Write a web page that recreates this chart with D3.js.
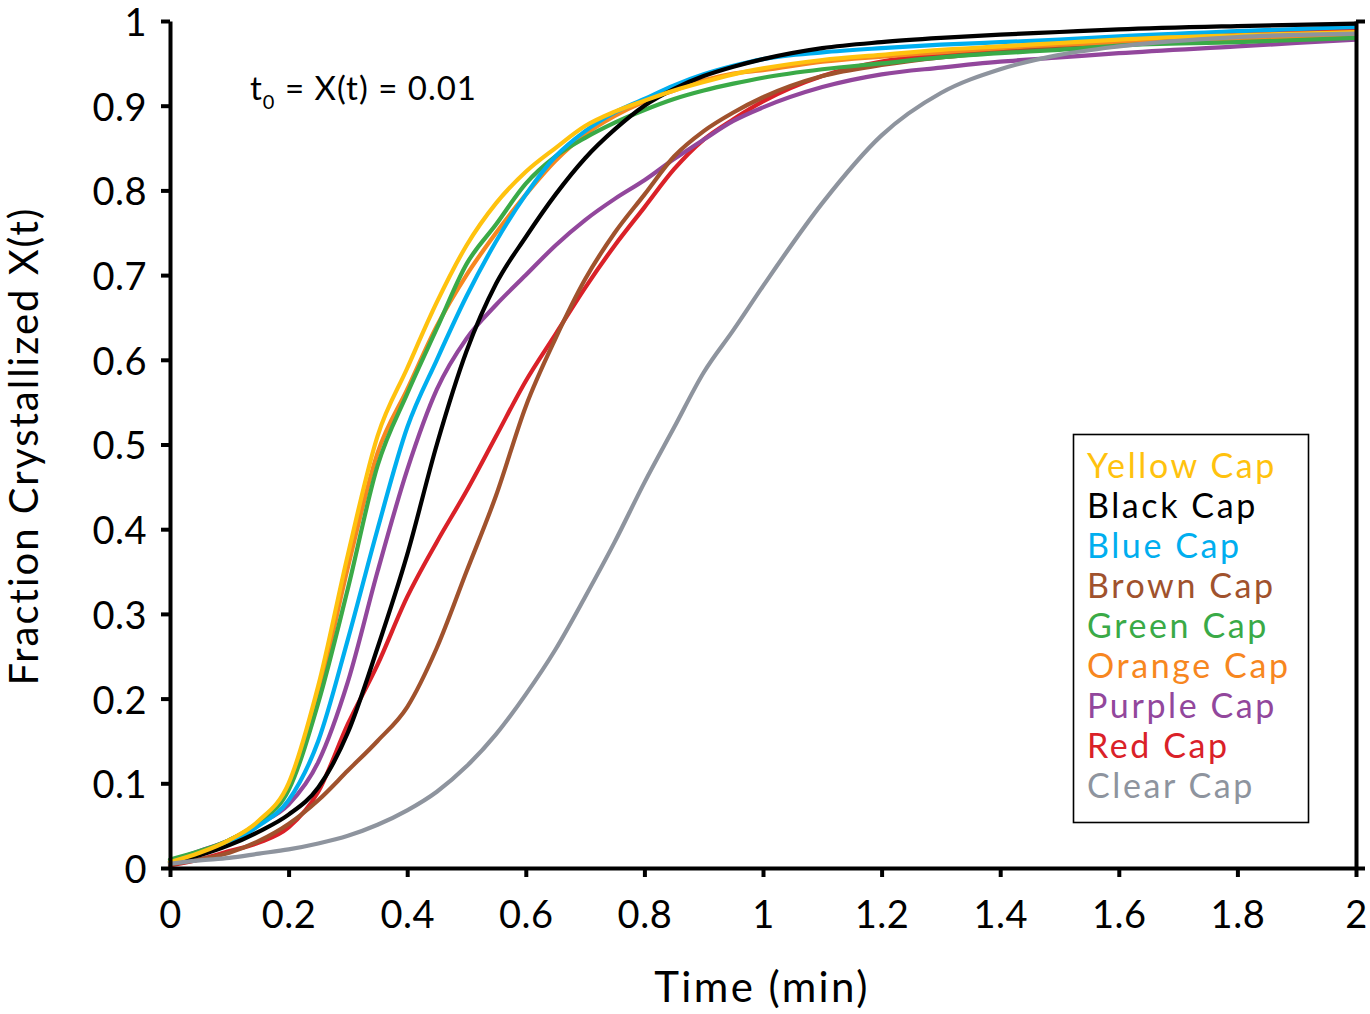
<!DOCTYPE html>
<html>
<head>
<meta charset="utf-8">
<script src="https://cdn.jsdelivr.net/npm/d3@7"></script>
<style>
  html, body { margin: 0; padding: 0; background: #fff; }
  svg { display: block; font-family: "Century Gothic", "Lato", sans-serif; }
</style>
</head>
<body>
<svg id="chart" width="1370" height="1014"></svg>
<script>
// ---- data ----
const times = [0, 0.05, 0.1, 0.15, 0.2, 0.25, 0.3, 0.35, 0.4, 0.45, 0.5, 0.55, 0.6, 0.65, 0.7, 0.75, 0.8, 0.85, 0.9, 0.95, 1.0, 1.1, 1.2, 1.3, 1.4, 1.5, 1.6, 1.8, 2.0];

const yellowCap = [.007,.018,.033,.056,.100,.215,.370,.510,.590,.668,.735,.785,.822,.850,.876,.893,.906,.918,.928,.937,.944,.954,.960,.966,.970,.974,.978,.983,.987];
const blackCap  = [.006,.015,.027,.043,.063,.095,.160,.260,.370,.500,.610,.690,.745,.795,.838,.872,.900,.920,.935,.946,.955,.968,.975,.980,.984,.987,.990,.994,.997];
const blueCap   = [.007,.017,.030,.050,.080,.150,.270,.400,.520,.600,.675,.740,.795,.840,.870,.892,.908,.924,.937,.947,.955,.963,.968,.972,.975,.978,.982,.988,.993];
const brownCap  = [.004,.010,.018,.032,.052,.080,.115,.150,.190,.260,.350,.440,.545,.625,.695,.750,.795,.840,.870,.892,.910,.935,.948,.957,.963,.968,.973,.979,.983];
const greenCap  = [.010,.020,.033,.054,.092,.195,.330,.475,.560,.637,.713,.760,.808,.840,.862,.880,.895,.908,.918,.926,.933,.943,.950,.957,.962,.966,.971,.975,.980];
const orangeCap = [.007,.018,.032,.055,.097,.205,.355,.490,.565,.640,.700,.750,.795,.835,.866,.888,.905,.918,.930,.938,.942,.952,.958,.963,.968,.972,.974,.978,.981];
const purpleCap = [.008,.020,.033,.052,.075,.125,.220,.350,.470,.565,.625,.665,.700,.735,.765,.790,.812,.837,.860,.882,.898,.922,.937,.945,.952,.957,.962,.970,.978];
const redCap    = [.003,.010,.020,.030,.048,.090,.170,.240,.320,.385,.445,.510,.575,.630,.685,.735,.780,.825,.860,.884,.905,.935,.952,.960,.966,.971,.976,.984,.990];
const clearCap  = [.005,.009,.012,.017,.022,.029,.038,.051,.068,.090,.120,.158,.205,.258,.320,.385,.455,.520,.585,.635,.687,.785,.865,.915,.943,.960,.970,.981,.985];

const seriesNames  = ["Yellow Cap","Black Cap","Blue Cap","Brown Cap","Green Cap","Orange Cap","Purple Cap","Red Cap","Clear Cap"];
const seriesValues = [yellowCap, blackCap, blueCap, brownCap, greenCap, orangeCap, purpleCap, redCap, clearCap];
const seriesColors = ["#FFC20E","#000000","#00AEEF","#A0522D","#3AAA47","#F7871F","#92479C","#DA2128","#8E949E"];
const drawOrder    = [7, 6, 3, 5, 4, 2, 1, 0, 8];

const xTickValues = [0,0.2,0.4,0.6,0.8,1,1.2,1.4,1.6,1.8,2];
const xTickLabels = ["0","0.2","0.4","0.6","0.8","1","1.2","1.4","1.6","1.8","2"];
const yTickValues = [0,0.1,0.2,0.3,0.4,0.5,0.6,0.7,0.8,0.9,1];
const yTickLabels = ["0","0.1","0.2","0.3","0.4","0.5","0.6","0.7","0.8","0.9","1"];

const xTitle = "Time (min)";
const yTitle = "Fraction Crystallized X(t)";

// ---- layout ----
const svg = d3.select("#chart");
const L = 170, R = 1356, T = 21, B = 868;
const x = d3.scaleLinear().domain([0, 2]).range([L, R]);
const y = d3.scaleLinear().domain([0, 1]).range([B, T]);

// curves
const line = d3.line().x(d => x(d[0])).y(d => y(d[1])).curve(d3.curveMonotoneX);
const gLines = svg.append("g");
drawOrder.forEach(i => {
  const pts = times.map((t, k) => [t, seriesValues[i][k]]);
  gLines.append("path")
    .attr("d", line(pts))
    .attr("fill", "none")
    .attr("stroke", seriesColors[i])
    .attr("stroke-width", 4.2)
    .attr("stroke-linejoin", "round")
    .attr("stroke-linecap", "round");
});

// axes
function styleAxis(g) {
  g.select(".domain").attr("stroke", "#000").attr("stroke-width", 4);
  g.selectAll(".tick line").attr("stroke", "#000").attr("stroke-width", 4);
  g.selectAll(".tick text").attr("fill", "#000").attr("font-size", 38)
    .attr("letter-spacing", 0.5)
    .attr("font-family", "\"Century Gothic\", Lato, sans-serif");
}

const xAxis = d3.axisBottom(x).tickValues(xTickValues)
  .tickFormat((d, i) => xTickLabels[i]).tickSize(9).tickSizeOuter(0).tickPadding(24);
svg.append("g").attr("transform", `translate(0,${B})`).call(xAxis).call(styleAxis);

const yAxis = d3.axisLeft(y).tickValues(yTickValues)
  .tickFormat((d, i) => yTickLabels[i]).tickSize(9).tickSizeOuter(0).tickPadding(14);
const gy = svg.append("g").attr("transform", `translate(${L},0)`).call(yAxis).call(styleAxis);
gy.selectAll(".tick text").attr("dy", "0.38em");

const yAxisR = d3.axisRight(y).tickValues([0, 1]).tickFormat("").tickSize(9).tickSizeOuter(0);
svg.append("g").attr("transform", `translate(${R},0)`).call(yAxisR).call(styleAxis);

// axis titles
svg.append("text")
  .attr("x", 762).attr("y", 1002)
  .attr("text-anchor", "middle").attr("font-size", 42).attr("letter-spacing", 2.4).attr("fill", "#000")
  .text(xTitle);
svg.append("text")
  .attr("transform", `translate(38,446) rotate(-90)`)
  .attr("text-anchor", "middle").attr("font-size", 40).attr("letter-spacing", 2).attr("fill", "#000")
  .text(yTitle);

// annotation
const ann = svg.append("text").attr("x", 250).attr("y", 100).attr("font-size", 33)
  .attr("letter-spacing", 1).attr("fill", "#000");
ann.append("tspan").text("t");
ann.append("tspan").attr("font-size", 20).attr("dy", 9).text("0");
ann.append("tspan").attr("dy", -9).text(" = X(t) = 0.01");

// legend
const lg = svg.append("g");
lg.append("rect").attr("x", 1073.5).attr("y", 434.5).attr("width", 235).attr("height", 388)
  .attr("fill", "#fff").attr("stroke", "#000").attr("stroke-width", 1.6);
seriesNames.forEach((name, i) => {
  lg.append("text").attr("x", 1087).attr("y", 478 + i * 40)
    .attr("font-size", 34).attr("letter-spacing", 2.6).attr("fill", seriesColors[i]).text(name);
});
</script>
</body>
</html>
